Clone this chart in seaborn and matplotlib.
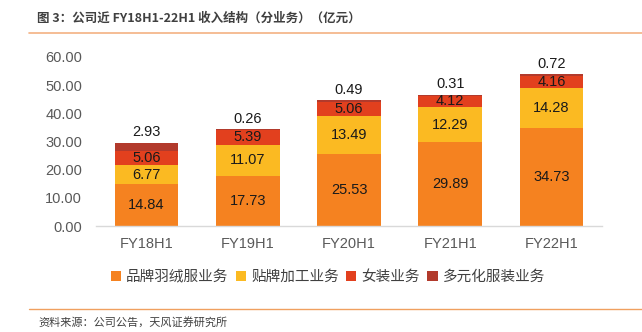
import matplotlib
matplotlib.use("Agg")
import matplotlib.pyplot as plt
import seaborn as sns
import pandas as pd
import numpy as np
from matplotlib.patches import Patch
from matplotlib.lines import Line2D

categories = ["FY18H1", "FY19H1", "FY20H1", "FY21H1", "FY22H1"]
brand_down = [14.84, 17.73, 25.53, 29.89, 34.73]
oem = [6.77, 11.07, 13.49, 12.29, 14.28]
womens = [5.06, 5.39, 5.06, 4.12, 4.16]
diversified = [2.93, 0.26, 0.49, 0.31, 0.72]
series_names = ["品牌羽绒服业务", "贴牌加工业务", "女装业务", "多元化服装业务"]
colors = ["#F58220", "#FBBA22", "#E2401E", "#B23A2C"]
yticks = [0, 10, 20, 30, 40, 50, 60]

sns.set_theme(style="white")
plt.rcParams["font.family"] = ["Liberation Sans", "Noto Sans CJK SC", "DejaVu Sans"]

series = [brand_down, oem, womens, diversified]
df = pd.DataFrame({"cat": categories})
cum = np.zeros(len(categories))
cums = []
for s in series:
    cum = cum + np.array(s)
    cums.append(cum.copy())
for i, c in enumerate(cums):
    df[f"c{i}"] = c

fig = plt.figure(figsize=(6.42, 3.32), dpi=100)
ax = fig.add_axes([96/642, 1-226/332, (602-96)/642, (226-57)/332])

for i in reversed(range(4)):
    sns.barplot(data=df, x="cat", y=f"c{i}", color=colors[i], width=0.63,
                saturation=1, ax=ax, linewidth=0, order=categories)

ax.set_ylim(0, 60)
ax.set_xlim(-0.5, 4.5)
ax.set_yticks(yticks)
ax.set_yticklabels([f"{v:.2f}" for v in yticks], color="#595959", fontsize=10.5)
ax.tick_params(axis="x", colors="#595959", labelsize=10.5, pad=8, length=0)
ax.tick_params(axis="y", length=0, pad=10)
ax.set_xlabel("")
ax.set_ylabel("")
for sp in ["top", "right", "left"]:
    ax.spines[sp].set_visible(False)
ax.spines["bottom"].set_color("#D9D9D9")
ax.spines["bottom"].set_linewidth(1)

for j in range(len(categories)):
    bottom = 0
    for i in range(3):
        v = series[i][j]
        ax.text(j, bottom + v / 2, f"{v:.2f}", ha="center", va="center",
                fontsize=10.5, color="#1a1a1a")
        bottom += v
    ax.text(j, cums[3][j] + 1.2, f"{diversified[j]:.2f}", ha="center", va="bottom",
            fontsize=10.5, color="#1a1a1a")

handles = [Patch(facecolor=colors[i], edgecolor="none") for i in range(4)]
fig.legend(handles, series_names, loc="center", bbox_to_anchor=(328/642, 1-277/332),
           ncol=4, frameon=False, fontsize=10.5, handlelength=0.7, handleheight=0.7,
           handletextpad=0.35, columnspacing=0.5,
           prop={"family": ["Noto Sans CJK SC"], "size": 10.5})
leg = fig.legends[0]
for t in leg.get_texts():
    t.set_color("#404040")

fig.text(37/642, 1-18/332, "图 3：公司近 FY18H1-22H1 收入结构（分业务）（亿元）",
         ha="left", va="center", fontsize=9, fontweight="bold", color="#404040",
         family=["Noto Sans CJK SC"])
fig.add_artist(Line2D([29/642, 1.0], [1-33/332, 1-33/332], color="#F4B183", lw=1.2,
                      transform=fig.transFigure))
fig.add_artist(Line2D([29/642, 1.0], [1-309/332, 1-309/332], color="#F0A060", lw=1.0,
                      transform=fig.transFigure))
fig.text(38/642, 1-322/332, "资料来源：公司公告，天风证券研究所", ha="left", va="center",
         fontsize=8, color="#404040", family=["Noto Sans CJK SC"])

fig.savefig("out.png", dpi=100)
